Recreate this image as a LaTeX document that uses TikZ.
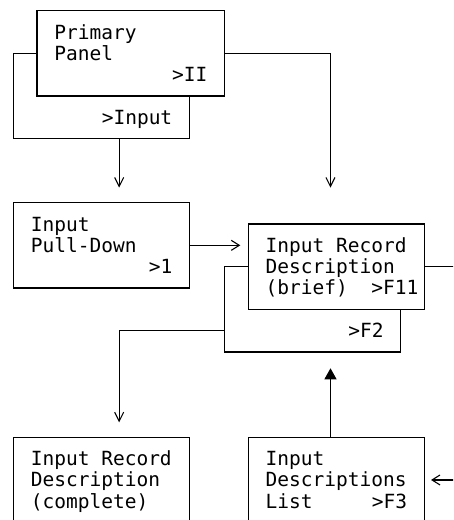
\documentclass[tikz,border=0pt]{standalone}
\usepackage{fontspec}
\newfontfamily\monofnt{DejaVu Sans Mono}
\usetikzlibrary{arrows.meta}
\newcommand{\monosp}{\kern11.74pt\relax}
\begin{document}
\begin{tikzpicture}[x=11.74pt,y=-21.33pt,
  every node/.style={font=\monofnt\fontsize{19.5pt}{21.33pt}\selectfont},
  box/.style={draw, fill=white, line width=1.1pt, rectangle, anchor=north west,
    outer sep=0pt, inner ysep=0pt, inner xsep=17.36pt, text width=141.38pt,
    align=left, text height=28.33pt, text depth=56.99pt},
  widebox/.style={box, text width=153.12pt},
  loopbox/.style={box, align=right, text height=70.99pt, text depth=14.33pt},
  conn/.style={line width=1.1pt},
  vtip/.style={-{Straight Barb[length=9pt,width=9pt]}},
  rtip/.style={-{Straight Barb[length=8pt,width=10pt]}},
  uptip/.style={-{Triangle[length=11pt,width=12pt]}},
]
\useasboundingbox (-0.1499,-0.5016) rectangle (38.436,23.877);
\clip (-0.1499,-0.5016) rectangle (38.436,23.877);

\coordinate (c10) at (10,0);
\coordinate (c28) at (28,0);
\coordinate (r15) at (0,15);
\coordinate (e3) at (39,12);
\coordinate (e5) at (39,22);

% panels
\node[loopbox] (l1) at (1,2) {>Input};
\node[widebox] (b1) at (3,0) {Primary\\Panel\\\mbox{}\hfill>II};
\node[box] (b2) at (1,9) {Input\\Pull-Down\\\mbox{}\hfill>1};
\node[loopbox] (l3) at (19,12) {>F2};
\node[box] (b3) at (21,10) {Input\monosp Record\\Description\\\rlap{(brief)\monosp\monosp>F11}};
\node[box] (b4) at (1,20) {Input\monosp Record\\Description\\(complete)};
\node[box] (b5) at (21,20) {Input\\Descriptions\\List\hfill>F3};

% connectors
\draw[conn,vtip,shorten >=15pt] (l1.south -| c10) -- (b2.north -| c10);
\draw[conn,vtip,shorten >=36.3pt] (b1.east) -| (b3.north -| c28);
\draw[conn,rtip,shorten >=8pt] (b2.east) -- (b3.west |- b2.east);
\draw[conn] (b3.east) -- (e3);
\draw[conn,vtip,shorten >=14.9pt] (l3.west |- r15) -| (b4.north -| c10);
\draw[conn,uptip,shorten >=16.3pt] (b5.north -| c28) -- (l3.south -| c28);
\draw[conn,rtip,shorten >=6.6pt] (e5) -- (b5.east);
\end{tikzpicture}
\end{document}
